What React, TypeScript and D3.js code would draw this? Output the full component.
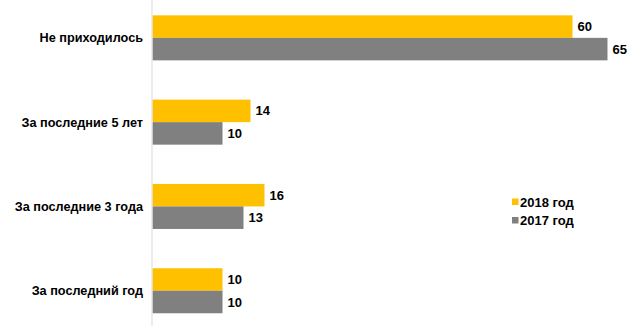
import React from "react";
import * as d3 from "d3";

const categories = ["Не приходилось", "За последние 5 лет", "За последние 3 года", "За последний год"];
const seriesNames = ["2018 год", "2017 год"];
const values2018 = [60, 14, 16, 10];
const values2017 = [65, 10, 13, 10];
const colors = ["#FFC000", "#808080"];

const W = 641;
const H = 326;
const FONT = "'Liberation Sans', Arial, sans-serif";

export default function App() {
  const x = d3.scaleLinear().domain([0, 70]).range([152.5, 642.5]);
  const y = d3
    .scaleBand<string>()
    .domain(categories)
    .range([-4.3, 332.9])
    .paddingInner(0.466)
    .paddingOuter(0.233);
  const inner = d3.scaleBand<string>().domain(seriesNames).range([0, y.bandwidth()]);
  const series = [values2018, values2017];

  return (
    <svg
      width={W}
      height={H}
      style={{ position: "absolute", left: 0, top: 0, background: "#fff" }}
      fontFamily={FONT}
    >
      <rect x={0} y={0} width={W} height={H} fill="#fff" />
      {categories.map((c, i) => (
        <g key={c}>
          {series.map((vals, s) => {
            const by = (y(c) as number) + (inner(seriesNames[s]) as number);
            const bh = inner.bandwidth();
            return (
              <g key={s}>
                <rect x={x(0)} y={by} width={x(vals[i]) - x(0)} height={bh} fill={colors[s]} />
                <text
                  x={x(vals[i]) + 5}
                  y={by + bh / 2}
                  dy="0.35em"
                  fontSize={13}
                  fontWeight="bold"
                  fill="#000"
                >
                  {vals[i]}
                </text>
              </g>
            );
          })}
          <text
            x={143}
            y={(y(c) as number) + y.bandwidth() / 2}
            dy="0.35em"
            textAnchor="end"
            fontSize={12.7}
            fontWeight="bold"
            fill="#000"
          >
            {c}
          </text>
        </g>
      ))}
      <line x1={152} x2={152} y1={0} y2={H} stroke="#D9D9D9" strokeWidth={1} />
      {seriesNames.map((n, s) => (
        <g key={n} transform={`translate(512, ${202 + s * 18.5})`}>
          <rect x={0} y={-3.5} width={6.5} height={6.5} fill={colors[s]} />
          <text x={8} y={0} dy="0.35em" fontSize={13} fontWeight="bold" fill="#000">
            {n}
          </text>
        </g>
      ))}
    </svg>
  );
}
